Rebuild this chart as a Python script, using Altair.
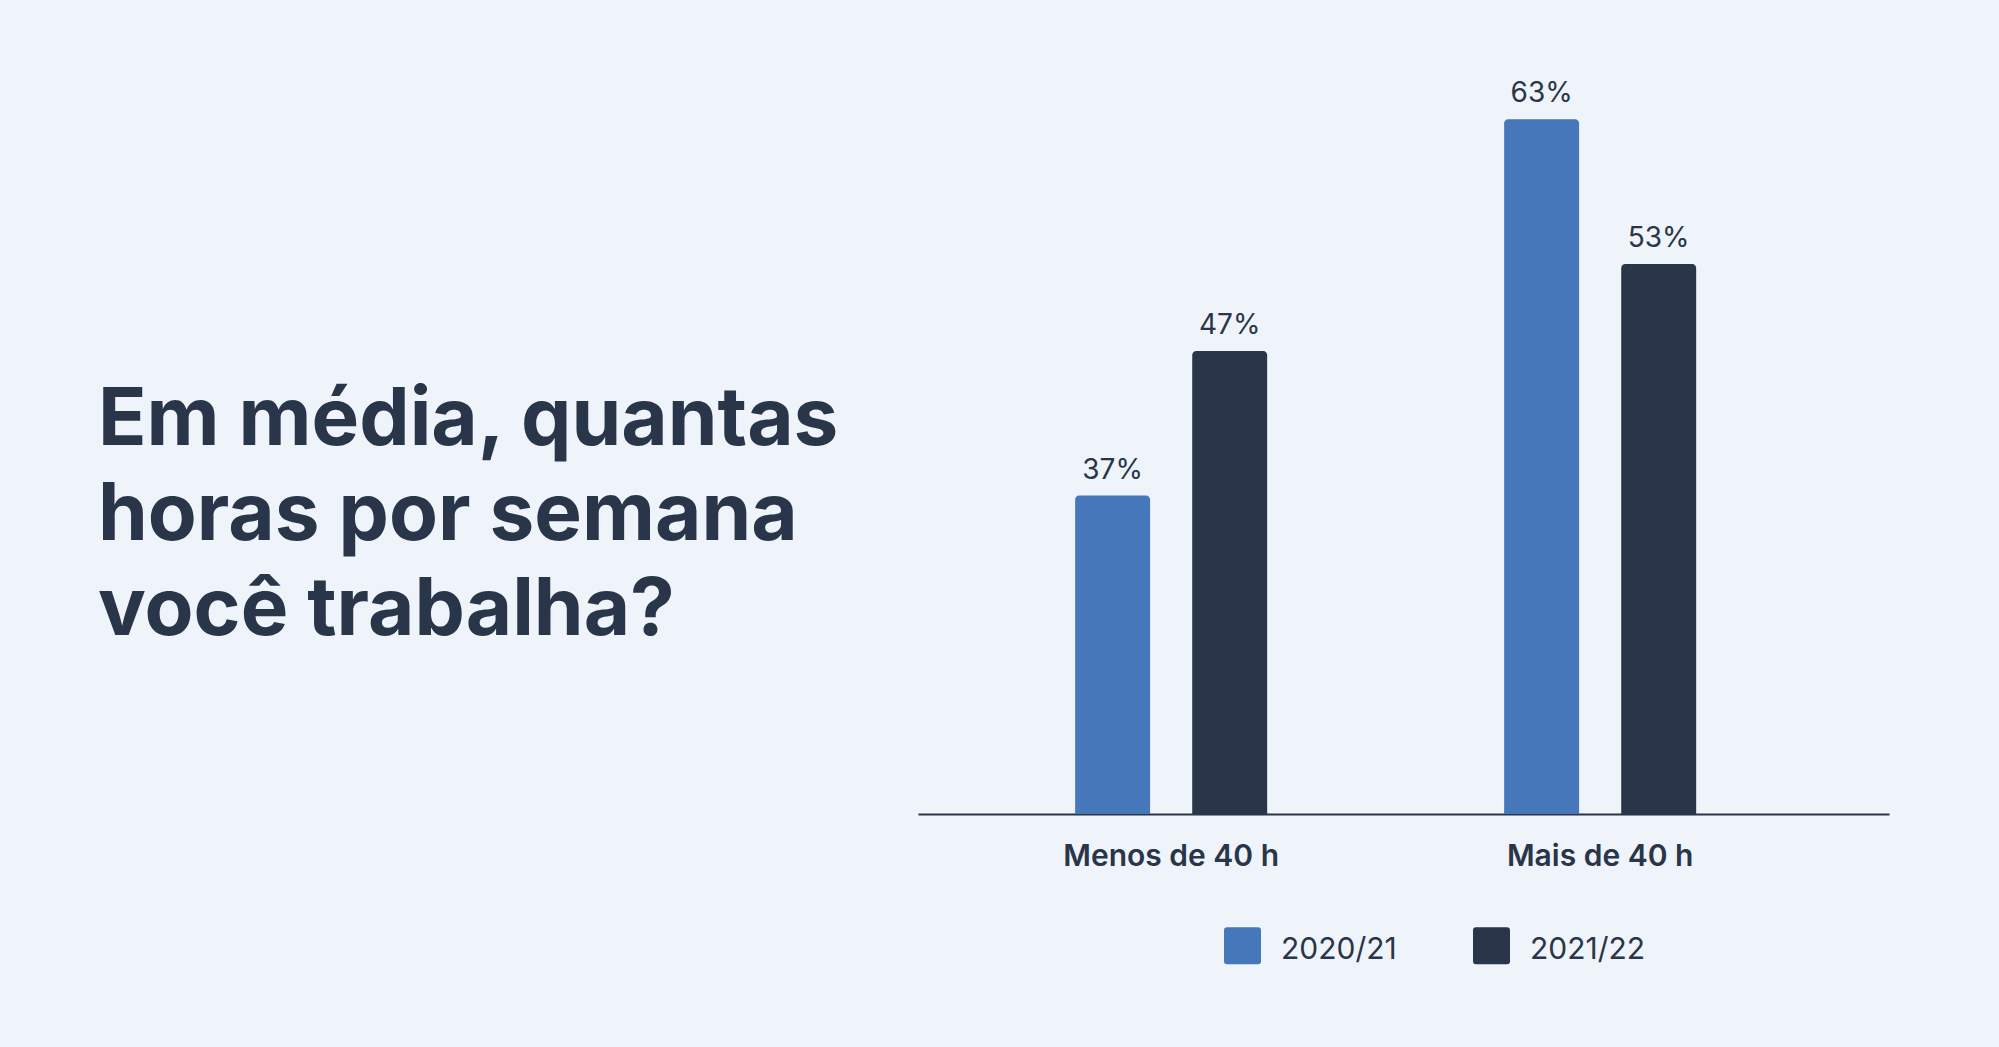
import altair as alt
import pandas as pd

# ---- data ----
categories = ["Menos de 40 h", "Mais de 40 h"]
periods = ["2020/21", "2021/22"]
values_2020_21 = [37, 63]
values_2021_22 = [47, 53]
title_lines = ["Em média, quantas", "horas por semana", "você trabalha?"]
axis_min = 15

BLUE = "#4677bb"
DARK = "#293548"
BG = "#eff3fa"
FONT = "Inter"

rows = []
for period, vals in zip(periods, [values_2020_21, values_2021_22]):
    for cat, v in zip(categories, vals):
        rows.append({"categoria": cat, "periodo": period, "valor": v, "rotulo": f"{v}%"})
df = pd.DataFrame(rows)

title_df = pd.DataFrame({"titulo": ["\n".join(title_lines)]})

# rounded square legend symbol (slightly raised so labels sit like the original)
ROUNDED = ("M -0.84 -1.22 L 0.84 -1.22 Q 1 -1.22 1 -1.06 L 1 0.62 Q 1 0.78 0.84 0.78 "
           "L -0.84 0.78 Q -1 0.78 -1 0.62 L -1 -1.06 Q -1 -1.22 -0.84 -1.22 Z")

x_enc = alt.X(
    "categoria:N", sort=categories, title=None,
    scale=alt.Scale(paddingInner=0.5524, paddingOuter=0.4079, align=0.449),
    axis=alt.Axis(labelAngle=0, ticks=False, tickSize=0, labelPadding=27,
                  labelLimit=500,
                  labelFont=FONT, labelFontSize=30, labelFontWeight=600,
                  labelColor=DARK, domainColor=DARK, domainWidth=2, grid=False),
)
xoff = alt.XOffset("periodo:N", sort=periods,
                   scale=alt.Scale(paddingInner=0.36, paddingOuter=0))
y_enc = alt.Y("valor:Q", scale=alt.Scale(domain=[axis_min, 68], zero=False, nice=False),
              axis=None)
color = alt.Color(
    "periodo:N", sort=periods,
    scale=alt.Scale(domain=periods, range=[BLUE, DARK]),
    legend=alt.Legend(title=None, orient="none", legendX=1126, legendY=884,
                      direction="horizontal", symbolType=ROUNDED, symbolSize=1369,
                      symbolStrokeWidth=0, symbolOpacity=1, labelFont=FONT,
                      labelFontSize=30, labelColor=DARK, labelOffset=20,
                      columnPadding=76, padding=0),
)

bars = alt.Chart(df).mark_bar(cornerRadiusTopLeft=4, cornerRadiusTopRight=4).encode(
    x=x_enc, xOffset=xoff, y=y_enc, y2=alt.datum(axis_min), color=color
)
labels = alt.Chart(df).mark_text(
    baseline="alphabetic", dy=-17, fontSize=28, font=FONT, color=DARK
).encode(x=x_enc, xOffset=xoff, y=y_enc, text="rotulo:N")

right = alt.layer(bars, labels).properties(width=971, height=767)

left = alt.Chart(title_df).mark_text(
    align="left", baseline="alphabetic", lineBreak="\n", lineHeight=95,
    font=FONT, fontSize=80, fontWeight=700, color=DARK
).encode(text="titulo:N", x=alt.value(0), y=alt.value(398)).properties(
    width=781, height=1000
)

chart = alt.hconcat(left, right, spacing=39).properties(
    padding={"left": 98, "top": 47, "right": 110, "bottom": 0},
    background=BG,
).configure_view(stroke=None)

chart.save("out.html", embed_options={"renderer": "svg", "actions": False})
